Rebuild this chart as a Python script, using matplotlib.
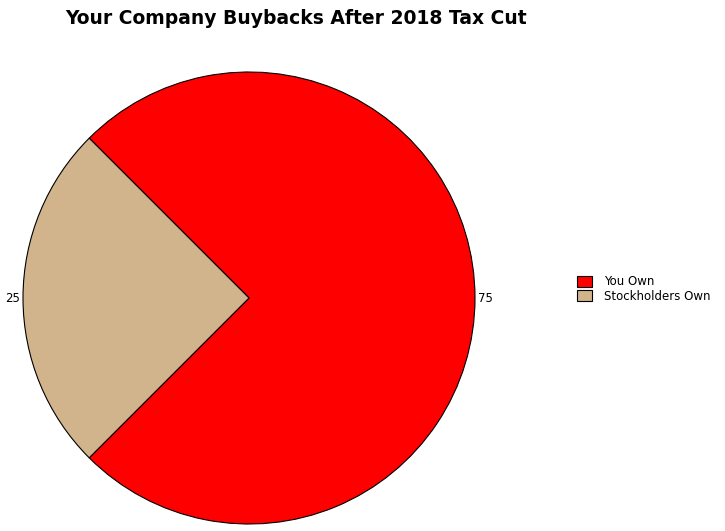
import matplotlib
matplotlib.use("Agg")
import matplotlib.pyplot as plt
from matplotlib.patches import Patch

categories = ["You Own", "Stockholders Own"]
values = [75, 25]
colors = ["#FF0000", "#D2B48C"]
labels = ["75", "25"]

fig = plt.figure(figsize=(7.25, 5.31), dpi=100)
ax = fig.add_axes([23/725, 7/531, 452/725, 452/531])
wedges, texts = ax.pie(values, colors=colors, labels=labels, startangle=-135,
                       counterclock=True, labeldistance=1.015,
                       wedgeprops=dict(edgecolor="black", linewidth=0.8),
                       textprops=dict(fontsize=8.5))
ax.set_xlim(-1, 1)
ax.set_ylim(-1, 1)
ax.set_aspect("equal")
ax.axis("off")

fig.text(65/725, 1 - 19/531, "Your Company Buybacks After 2018 Tax Cut",
         fontsize=13.5, fontweight="bold", ha="left", va="center")

handles = [Patch(facecolor=c, edgecolor="black", linewidth=0.8) for c in colors]
fig.legend(handles, categories, loc="center left", bbox_to_anchor=(566/725, 1 - 289/531),
           frameon=False, fontsize=8.5, handlelength=1.3, handleheight=1.0,
           labelspacing=0.1, handletextpad=1.0)

fig.savefig("out.png", dpi=100)
